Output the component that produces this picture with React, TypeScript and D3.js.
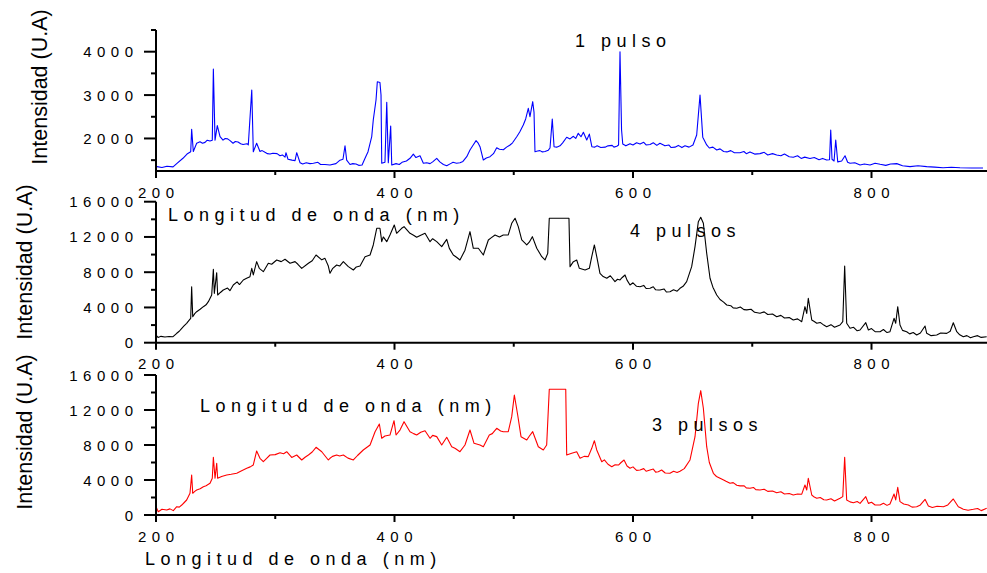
import React from "react";
import * as d3 from "d3";

// ---------- data ----------
const xTicksMajor = [200, 400, 600, 800];
const xTicksMinor = [300, 500, 700];

const topTicksMajor = [2000, 3000, 4000];
const topTicksMinor = [1500, 2500, 3500, 4500];
const lowTicksMajor = [0, 4000, 8000, 12000, 16000];
const lowTicksMinor = [2000, 6000, 10000, 14000];

const panelLabels = ["1 pulso", "4 pulsos", "3 pulsos"];
const xTitle = "Longitud de onda (nm)";
const yTitle = "Intensidad (U.A)";

// [wavelength nm, intensity] — 1 pulso (blue)
const blueSpectrum: [number, number][] = [
  [200.8,1350],[205,1330],[209.2,1360],[214.3,1345],[217.6,1427],[222.6,1543],[226,1640],[229.1,1695],[229.9,2210],[231.3,1700],
  [234.1,1888],[236.9,1925],[239,1890],[241.1,1910],[243,1960],[245.3,1940],[247.2,1960],[248.1,3600],[249.5,1960],[251.4,2295],
  [253.7,2040],[256.2,1960],[258,2000],[260.1,1990],[262.1,1950],[264.6,1890],[266.5,1930],[268.8,1920],[271,1880],[273,1860],
  [276.3,1880],[277.4,1850],[280.3,3117],[281.6,1695],[284.4,1890],[287.2,1700],[289,1720],[291.4,1680],[293.5,1650],[295.6,1640],
  [298,1660],[301.5,1650],[304,1600],[306,1620],[308.2,1570],[309,1672],[310.7,1520],[314,1500],[316.6,1490],[318,1672],
  [320.8,1440],[323,1410],[326,1440],[329.1,1420],[332,1430],[335.8,1450],[338,1400],[341.7,1400],[345.9,1388],[350.9,1420],
  [354.3,1500],[356.8,1520],[358.5,1833],[359.9,1500],[362.7,1400],[365,1420],[367.7,1410],[370,1380],[372.8,1390],[375.3,1543],
  [377.8,1695],[380.9,2040],[382.2,2425],[384.5,2887],[385.6,3308],[387.8,3290],[388.7,3002],[389.3,1427],[392,1450],[393.5,2833],
  [394.8,1440],[396.8,2287],[397.7,1388],[401.3,1420],[404,1400],[406.3,1450],[410,1480],[413,1543],[415.8,1640],[418,1560],
  [421.4,1600],[424.2,1427],[427,1440],[429.8,1420],[432,1460],[435.4,1543],[438,1460],[441,1400],[443.8,1370],[447,1420],
  [449.1,1450],[452,1430],[454.9,1440],[457.4,1470],[460.6,1580],[463.3,1734],[466,1850],[468.4,1950],[470,1900],[471.7,1810],
  [474.5,1503],[477,1550],[480.1,1580],[483,1650],[485.7,1787],[488,1750],[491.3,1740],[494,1800],[496.9,1850],[499,1900],
  [502.5,2040],[505,2150],[508,2310],[510,2450],[512.2,2695],[513.6,2502],[515.9,2848],[517,2600],[517.8,1695],[520,1710],
  [522,1720],[524,1690],[526.2,1700],[529,1730],[530.4,1780],[532.3,2449],[533.8,1810],[536,1800],[538.8,1830],[541,1900],
  [544.4,2027],[547.2,1990],[550,2050],[552,2000],[554.1,2119],[556.4,2040],[558.4,2142],[561.2,1965],[563.4,2100],[565.5,1810],
  [568,1800],[569.9,1830],[573,1790],[576.6,1800],[579,1830],[582.5,1840],[584,1800],[586.4,1820],[587.9,1850],[589.1,4000],
  [590.4,2200],[591.4,1872],[594,1830],[597.5,1880],[600,1850],[603,1900],[605.9,1870],[609,1910],[611,1850],[614.3,1860],
  [617,1900],[620,1840],[622.6,1888],[626.8,1830],[630,1850],[632,1790],[635.2,1800],[638,1840],[641,1790],[643.6,1830],
  [647,1800],[650.3,1850],[653.4,2080],[656.2,3002],[658.5,2030],[661.8,1850],[664,1780],[667,1800],[670.2,1734],[673,1760],
  [676,1700],[678.8,1690],[682,1720],[685,1670],[689.7,1672],[693,1700],[695,1650],[698.1,1690],[702,1640],[706.5,1650],
  [710,1680],[713,1620],[717,1650],[720.5,1619],[724,1600],[727,1640],[731,1580],[734.4,1566],[738,1600],[741,1540],
  [744,1570],[748.4,1540],[752,1560],[756,1510],[759,1540],[762.4,1503],[764.8,1510],[765.8,2195],[766.9,1520],[768.6,1480],
  [770,1965],[771.7,1460],[775,1480],[777.8,1600],[780,1450],[782,1427],[786,1440],[790.4,1390],[794,1410],[798.8,1388],
  [803,1430],[807.2,1405],[812,1380],[816,1410],[821.2,1420],[826,1370],[832.3,1350],[839,1370],[846.3,1350],[853,1340],
  [860,1325],[867,1335],[874.2,1325],[884,1320],[893.5,1320],
];

// 4 pulsos (black)
const blackSpectrum: [number, number][] = [
  [200,874],[201.7,600],[204.2,720],[207.5,650],[210.9,700],[214.3,680],[217.4,1067],[219.5,1300],[221.6,1634],[223.5,1900],
  [225.7,2202],[227.5,2500],[229.1,2770],[229.9,6356],[230.8,2950],[232.5,3300],[234.1,3520],[237,3800],[239.7,4087],[242,4300],
  [243.9,4654],[246.7,5414],[248.1,8330],[248.9,5600],[250.9,7945],[251.7,5414],[254,5700],[256.4,5980],[260,6200],[262,5900],
  [264.8,6550],[268,6900],[270,6600],[273.2,7116],[276,7300],[278.8,7490],[280.3,8440],[281.6,7700],[284.4,9195],[286.6,8440],
  [290,8060],[294.2,9010],[297,8900],[301.2,9386],[305,9200],[308.2,9466],[312.4,9010],[316.6,9200],[319,8900],[322.2,8440],
  [327.8,9010],[331,9300],[334.2,9955],[339,9400],[341.7,9570],[344.5,8700],[345.9,7877],[348,8400],[351.5,8820],[354,8700],
  [357.1,9195],[361.3,8630],[365.5,8250],[368,8600],[371.1,8700],[375.3,9760],[379.5,9950],[382.2,11090],[385.1,12985],[387.8,12985],
  [389.3,11465],[390.6,12000],[393.5,11465],[396.2,12225],[399.8,13360],[401.8,12417],[406,12985],[408,13166],[413,12417],[416,12200],
  [418.6,11963],[422,12200],[425.6,12417],[429.8,11465],[432,11800],[435.4,11465],[439.6,10896],[443.8,11720],[446,10700],[449.3,9955],
  [452,9700],[454.9,9386],[459.1,10500],[463.3,12600],[466.1,10714],[470.3,10714],[474.5,9955],[478.7,11656],[481,11900],[484.3,12225],
  [488,12000],[491.2,12225],[495.4,12225],[498.3,13550],[501.1,14120],[503.8,13170],[506.7,11656],[510.9,11090],[513,11400],[515.6,12031],
  [519.3,10714],[523.5,9760],[526.2,9386],[528.5,10140],[529.8,14120],[546.3,14120],[547.2,8630],[550,9195],[552.8,9386],[555,8440],
  [559.8,8250],[563.4,8440],[565.4,9760],[567.6,11090],[569.6,9760],[572.3,7877],[575,7500],[578,7310],[581,7600],[584.9,6923],
  [587,7200],[589.1,7116],[591,7400],[593.3,7684],[595,7100],[597.5,6549],[600,6800],[603,6400],[605.9,6356],[609,6500],
  [611,6150],[614.3,6174],[617,6350],[619,6000],[621.2,5980],[622.6,5980],[626,6100],[628,5750],[631,5790],[634,6000],
  [637,5850],[639.4,6170],[642,6400],[645,6923],[649.2,8630],[652,10896],[654.8,13735],[656.8,14233],[659,13550],[661.8,10147],
  [664.6,7310],[667,6300],[670.2,5414],[673,4900],[676,4600],[678.6,4279],[682,4200],[684,3950],[687,3904],[690,4050],
  [693,3750],[695.4,3720],[699,3800],[702,3450],[706.5,3337],[710,3500],[713,3200],[717,3250],[720.5,2950],[724,3100],
  [727,2800],[731,2850],[734.4,2576],[738,2700],[741.5,2383],[744.2,4087],[745.7,3330],[747,5040],[749.9,2576],[752,2400],
  [754.1,2202],[757,2300],[760,2000],[762.4,1816],[766,2050],[769,1750],[773.6,2010],[775.9,2383],[777.5,8706],[779.2,2202],
  [782,1634],[785,1750],[788,1350],[790.4,1441],[795.2,2270],[797.4,1441],[800,1600],[803,1250],[807.2,1249],[810,1500],
  [813,1150],[815.5,1249],[818.9,2770],[820.3,2202],[822,4087],[823.9,2010],[826,1400],[829.5,1249],[832,1000],[835,1150],
  [837.9,874],[841,1100],[844.9,1895],[846.3,1060],[850,800],[854.7,874],[858,1100],[863.1,1060],[866,1300],[868.6,2270],
  [871.5,1249],[874,900],[877,681],[880,800],[883,560],[885.4,681],[889,800],[892,600],[896.6,681],
];

// 3 pulsos (red)
const redSpectrum: [number, number][] = [
  [200,950],[201.9,377],[205,650],[209,571],[211.7,700],[214.5,500],[217.4,950],[219.5,900],[221.6,1140],[223.5,1400],
  [225.7,1714],[228.5,2480],[229.9,4572],[230.8,2480],[232.5,2700],[234.1,2857],[237,3000],[239.7,3235],[242,3350],[245.3,3623],
  [247.2,4195],[248.1,6595],[249.5,4195],[250.9,5909],[251.7,4195],[255,4400],[259.3,4572],[263,4650],[267.7,4766],[271,5000],
  [276.1,5338],[279,5500],[281.6,5715],[284.4,7315],[287.2,6480],[290,6092],[293,6500],[295.6,6858],[300,6900],[304,7121],
  [307,7000],[309.6,7230],[313.8,6580],[318,6858],[322.2,6287],[325,6600],[327.8,6858],[331,7200],[334.2,7738],[339,7230],
  [344.5,6287],[345.9,6481],[348,6700],[351.5,6858],[354,6750],[357.1,6858],[361,6500],[365.5,6287],[369,6800],[373.8,7430],
  [379.5,8001],[383.7,9521],[387.3,10401],[389.3,8767],[392,9030],[396.2,9140],[399.6,10778],[401.3,9140],[404.6,9710],[408,10664],
  [413,9521],[416,9300],[418.6,9140],[422,9450],[425.6,9635],[429.8,8767],[432,9100],[435.4,8960],[439.6,8001],[443.8,8881],
  [448,7810],[451,7600],[454.9,7235],[459.1,8000],[463.3,9716],[466.7,8195],[471.7,8000],[474.5,7810],[479.5,9144],[482,9300],
  [485.7,9910],[489,9600],[491.2,9521],[495.4,9521],[498.3,11236],[500.5,13716],[503.3,11430],[506.1,8950],[510.9,8570],[513,9000],
  [515.9,9521],[520.6,7807],[524.8,7430],[527.6,8000],[529.8,14368],[543.6,14368],[544.4,6858],[548.6,7050],[552.8,7235],[555.6,6481],
  [559,6700],[562.5,6670],[565.4,7620],[567.6,8492],[569.6,7430],[573.8,6092],[576,6300],[579,5800],[582.2,5521],[585,5750],
  [587.8,5710],[590,6000],[592.5,6287],[595,5600],[597.5,5338],[600,5500],[603,5100],[605.9,5144],[609,5300],[611,5000],
  [614.3,5144],[617,5250],[619,4900],[621.2,4949],[624,5144],[627,4800],[631,4766],[634,5000],[637,4850],[639.4,5000],
  [643,5300],[647.8,6287],[652,8950],[654.8,12767],[656.8,14208],[659,12200],[661.8,7807],[664,6000],[667.4,4766],[670,4400],
  [673,4195],[676,4000],[678,3850],[681.4,3623],[684,3700],[687,3400],[689.7,3330],[693,3350],[695,3100],[698.1,3052],
  [701,3150],[703,2900],[706.5,2860],[710,2950],[713,2700],[717,2750],[720.5,2549],[724,2650],[727,2400],[731,2450],
  [734.4,2286],[738,2400],[741.5,2380],[744.2,3429],[745.7,2860],[747,4195],[749.9,2286],[752,2050],[754.1,1909],[757,2000],
  [760,1750],[762.4,1720],[766,1850],[769,1600],[773.6,1909],[775.9,2100],[777.5,6595],[779.2,1720],[782,1500],[784.8,1406],
  [788,1550],[790.4,1330],[795.2,2092],[797.4,1330],[800,1450],[803,1150],[807.2,1143],[810,1350],[813,1100],[815.5,1260],
  [818.9,2400],[820.3,1720],[822,3166],[823.9,1530],[827,1250],[830.9,1143],[834,900],[837.9,949],[841,1150],[844.9,1794],
  [847.7,1030],[851,850],[855,1000],[860.3,950],[864,1150],[868.6,1829],[872.8,950],[875,800],[877,651],[881,550],
  [885.4,651],[889,750],[892,500],[896.6,760],
];

// ---------- layout ----------
const W = 987;
const H = 573;
const FONT = "'Liberation Sans', Arial, Helvetica, sans-serif";
const LS = 5.5;

type Panel = {
  data: [number, number][];
  color: string;
  domain: [number, number];
  top: number;
  bottom: number;
  major: number[];
  minor: number[];
  ylabX: number;
  ylabY: number;
  label: string;
  labX: number;
  labY: number;
  titleX: number;
  titleY: number;
};

const panels: Panel[] = [
  { data: blueSpectrum, color: "#0000ff", domain: [1250, 4500], top: 30, bottom: 171,
    major: topTicksMajor, minor: topTicksMinor, ylabX: 46.5, ylabY: 87,
    label: panelLabels[0], labX: 575, labY: 46.5, titleX: 168, titleY: 221 },
  { data: blackSpectrum, color: "#000000", domain: [0, 16000], top: 201.7, bottom: 342.7,
    major: lowTicksMajor, minor: lowTicksMinor, ylabX: 32, ylabY: 262,
    label: panelLabels[1], labX: 630, labY: 236.5, titleX: 200, titleY: 411.5 },
  { data: redSpectrum, color: "#ff0000", domain: [0, 16000], top: 375, bottom: 515,
    major: lowTicksMajor, minor: lowTicksMinor, ylabX: 32, ylabY: 432,
    label: panelLabels[2], labX: 652, labY: 431, titleX: 145, titleY: 565 },
];

const x = d3.scaleLinear().domain([200, 900]).range([156, 990.75]);

function PanelView({ p }: { p: Panel }) {
  const y = d3.scaleLinear().domain(p.domain).range([p.bottom, p.top]);
  const line = d3
    .line<[number, number]>()
    .x((d) => x(d[0]))
    .y((d) => y(d[1]));
  const x0 = x(200);
  return (
    <g>
      <path d={line(p.data) || ""} fill="none" stroke={p.color} strokeWidth={1.1} strokeLinejoin="round" />
      <line x1={x0} x2={W} y1={p.bottom} y2={p.bottom} stroke="#000" strokeWidth={2} />
      <line x1={x0} x2={x0} y1={p.top} y2={p.bottom + 1} stroke="#000" strokeWidth={2} />
      {xTicksMajor.map((t) => (
        <g key={"xM" + t}>
          <line x1={x(t)} x2={x(t)} y1={p.bottom} y2={p.bottom + 7} stroke="#000" strokeWidth={2} />
          <text x={x(t) + LS / 2} y={p.bottom + 26.5} fontSize={15} textAnchor="middle"
            letterSpacing={LS} fontFamily={FONT} fill="#000">{t}</text>
        </g>
      ))}
      {xTicksMinor.map((t) => (
        <line key={"xm" + t} x1={x(t)} x2={x(t)} y1={p.bottom} y2={p.bottom + 4} stroke="#000" strokeWidth={2} />
      ))}
      {p.major.map((t) => (
        <g key={"yM" + t}>
          <line x1={x0 - 12} x2={x0} y1={y(t)} y2={y(t)} stroke="#000" strokeWidth={2} />
          <text x={133 + LS} y={y(t) + 5.5} fontSize={15} textAnchor="end"
            letterSpacing={LS} fontFamily={FONT} fill="#000">{t}</text>
        </g>
      ))}
      {p.minor.map((t) => (
        <line key={"ym" + t} x1={x0 - 5} x2={x0} y1={y(t)} y2={y(t)} stroke="#000" strokeWidth={2} />
      ))}
      <text transform={`translate(${p.ylabX},${p.ylabY}) rotate(-90)`} textAnchor="middle"
        fontSize={21.5} fontFamily={FONT} fill="#000">{yTitle}</text>
      <text x={p.labX} y={p.labY} fontSize={18} letterSpacing={LS} fontFamily={FONT} fill="#000">{p.label}</text>
      <text x={p.titleX} y={p.titleY} fontSize={18} letterSpacing={LS} fontFamily={FONT} fill="#000">{xTitle}</text>
    </g>
  );
}

export default function App() {
  return (
    <svg width={W} height={H} viewBox={`0 0 ${W} ${H}`}
      style={{ position: "absolute", left: 0, top: 0, background: "#fff" }}>
      <rect x={0} y={0} width={W} height={H} fill="#fff" />
      {panels.map((p, i) => (
        <PanelView key={i} p={p} />
      ))}
    </svg>
  );
}
